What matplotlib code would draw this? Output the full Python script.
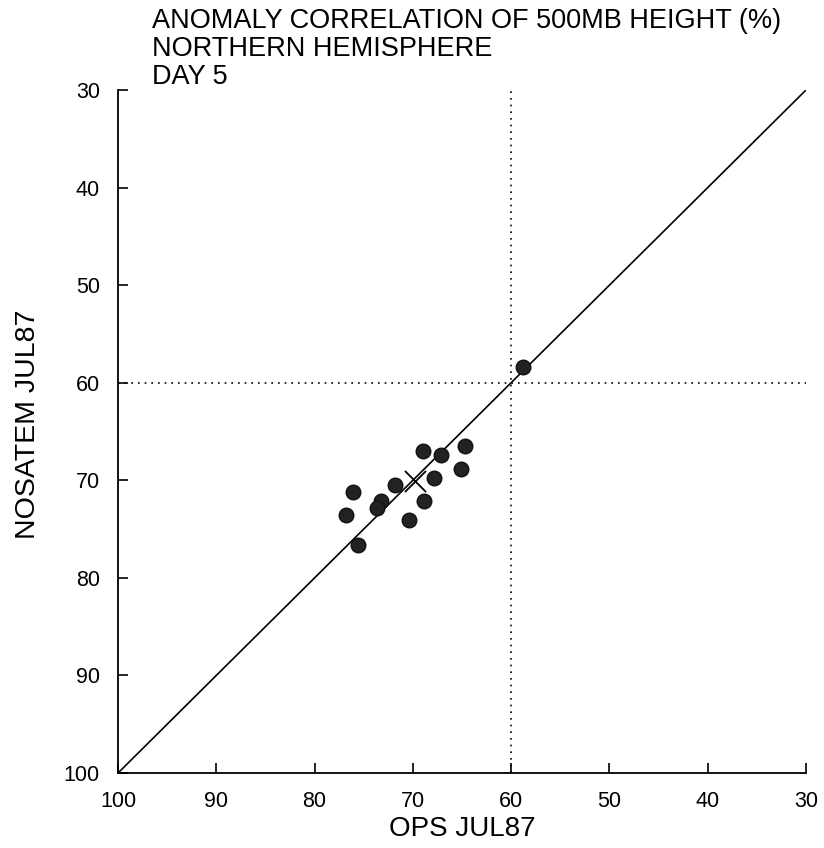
import matplotlib
matplotlib.use("Agg")
import matplotlib.pyplot as plt

# Data (OPS vs NOSATEM anomaly correlation, %)
ops = [69.0, 67.1, 64.7, 65.1, 67.9, 71.8, 76.1, 73.2, 73.6, 68.9, 76.8, 70.4, 75.6, 58.8]
nosatem = [67.0, 67.4, 66.5, 68.8, 69.75, 70.5, 71.2, 72.1, 72.8, 72.1, 73.6, 74.1, 76.6, 58.4]
mean_ops = [69.8]
mean_nosatem = [70.1]
ticks = [100, 90, 80, 70, 60, 50, 40, 30]

plt.rcParams['font.family'] = ['Liberation Sans', 'DejaVu Sans']

fig = plt.figure(figsize=(8.24, 8.48), dpi=100)
ax = fig.add_axes([0.1432, 0.0884, 0.8350, 0.8055])

ax.set_xlim(100, 30)
ax.set_ylim(100, 30)

ax.plot([100, 30], [100, 30], color='black', lw=1.2, zorder=2)
ax.axvline(60, color='black', lw=1.2, ls=(0, (1, 3)), zorder=1)
ax.axhline(60, color='black', lw=1.2, ls=(0, (1, 3)), zorder=1)

ax.scatter(ops, nosatem, s=110, color='#222222', edgecolors='#111111', zorder=3)
ax.scatter(mean_ops, mean_nosatem, marker='x', s=230, color='black', linewidths=1.3, zorder=4)

for s in ['top', 'right']:
    ax.spines[s].set_visible(False)
for s in ['left', 'bottom']:
    ax.spines[s].set_linewidth(1.3)

ax.set_xticks(ticks)
ax.set_yticks(ticks)
ax.set_xticklabels([str(t) for t in ticks])
ax.set_yticklabels([str(t) for t in ticks])
ax.tick_params(direction='in', length=7.5, width=1.2, labelsize=15.5, pad=13)

ax.set_xlabel('OPS JUL87', fontsize=20, labelpad=3)
ax.set_ylabel('NOSATEM JUL87', fontsize=20.5)
ax.yaxis.set_label_coords(-0.112, 0.51)

fig.text(0.1845, 0.990, 'ANOMALY CORRELATION OF 500MB HEIGHT (%)\nNORTHERN HEMISPHERE\nDAY 5',
         ha='left', va='top', fontsize=19.5, linespacing=1.1)

fig.savefig('out.png', dpi=100)
